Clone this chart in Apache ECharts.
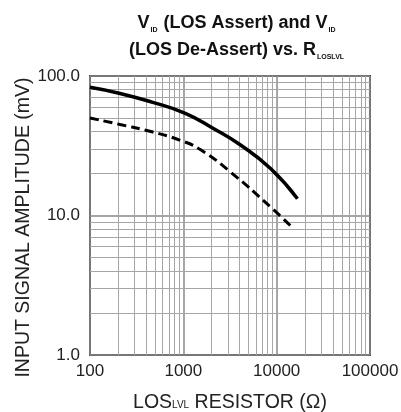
<!DOCTYPE html>
<html>
<head>
<meta charset="utf-8">
<script src="https://cdn.jsdelivr.net/npm/echarts@6/dist/echarts.min.js"></script>
<style>
  html, body { margin: 0; padding: 0; background: #fff; }
  #chart { width: 401px; height: 412px; }
</style>
</head>
<body>
<div id="chart"></div>
<script>
// LOS assert (solid) and de-assert (dashed) vs resistor
var assertR = [100, 210, 460, 1050, 2100, 4100, 8600, 16700];
var assertV = [83, 75, 65, 54, 42, 32, 21.7, 13.2];
var deassertR = [100, 210, 460, 925, 1520, 3200, 8600, 14700];
var deassertV = [50, 44.9, 39.8, 34.6, 29.7, 20.5, 11.5, 8.2];

var xTicks = [100, 1000, 10000, 100000];
var yTicks = [1, 10, 100];

// minor log grid positions (2..9 per decade)
var xMinor = [];
var yMinor = [];
for (var d = 100; d < 100000; d *= 10) {
    for (var k = 2; k <= 9; k++) xMinor.push(d * k);
}
for (var e = 1; e < 100; e *= 10) {
    for (var m = 2; m <= 9; m++) yMinor.push(e * m);
}

function pairs(xs, ys) {
    var out = [];
    for (var i = 0; i < xs.length; i++) out.push([xs[i], ys[i]]);
    return out;
}

var gridLines = [];
xMinor.forEach(function (v) { gridLines.push({xAxis: v}); });
yMinor.forEach(function (v) { gridLines.push({yAxis: v}); });

var font = 'Liberation Sans';

var chart = echarts.init(document.getElementById('chart'));
var option = {
    animation: false,
    backgroundColor: '#fff',
    title: {
        text: 'V{s|ID} (LOS Assert) and V{s|ID}\n(LOS De-Assert) vs. R{s|LOSLVL}',
        left: 232,
        top: 5,
        textAlign: 'center',
        textStyle: {
            fontFamily: font,
            fontSize: 18,
            fontWeight: 'bold',
            color: '#111',
            lineHeight: 27,
            rich: {
                s: {
                    fontFamily: font,
                    fontSize: 7,
                    lineHeight: 7,
                    fontWeight: 'bold',
                    color: '#111',
                    verticalAlign: 'bottom',
                    padding: [0, 1, 3, 1]
                }
            }
        }
    },
    grid: {
        left: 90,
        right: 31,
        top: 76,
        bottom: 57,
        outerBoundsMode: 'none',
        show: true,
        borderColor: '#444',
        borderWidth: 2
    },
    xAxis: {
        type: 'log',
        logBase: 10,
        min: 100,
        max: 100000,
        name: 'LOS{s|LVL} RESISTOR (Ω)',
        nameLocation: 'middle',
        nameGap: 37,
        nameTextStyle: {
            fontFamily: font,
            fontSize: 19.5,
            lineHeight: 22,
            color: '#222',
            rich: {
                s: {fontFamily: font, fontSize: 10, lineHeight: 10, color: '#222', verticalAlign: 'bottom', padding: [0, 0, 4, 0]}
            }
        },
        axisLine: {show: false},
        axisTick: {show: false},
        axisLabel: {
            fontFamily: font,
            fontSize: 17,
            color: '#222',
            margin: 8,
            formatter: function (v) { return xTicks.indexOf(Math.round(v)) >= 0 ? String(Math.round(v)) : ''; }
        },
        splitLine: {show: true, lineStyle: {color: '#888', width: 1.5}}
    },
    yAxis: {
        type: 'log',
        logBase: 10,
        min: 1,
        max: 100,
        name: 'INPUT SIGNAL AMPLITUDE (mV)',
        nameLocation: 'middle',
        nameMoveOverlap: false,
        nameGap: 56,
        nameTextStyle: {fontFamily: font, fontSize: 19.5, color: '#222', padding: [0, 24, 0, 0]},
        axisLine: {show: false},
        axisTick: {show: false},
        axisLabel: {
            fontFamily: font,
            fontSize: 17,
            color: '#222',
            margin: 10,
            formatter: function (v) { return yTicks.indexOf(Math.round(v)) >= 0 ? Number(v).toFixed(1) : ''; }
        },
        splitLine: {show: true, lineStyle: {color: '#888', width: 1.5}}
    },
    series: [
        {
            type: 'line',
            data: [],
            silent: true,
            z: 1,
            markLine: {
                silent: true,
                symbol: ['none', 'none'],
                label: {show: false},
                lineStyle: {type: 'solid', color: '#a6a6a6', width: 1},
                data: gridLines
            }
        },
        {
            name: 'Assert',
            type: 'line',
            z: 10,
            data: pairs(assertR, assertV),
            smooth: 0.5,
            showSymbol: false,
            lineStyle: {color: '#000', width: 3.5}
        },
        {
            name: 'De-Assert',
            type: 'line',
            z: 10,
            data: pairs(deassertR, deassertV),
            smooth: 0.5,
            showSymbol: false,
            lineStyle: {color: '#000', width: 3, type: [9, 5]}
        }
    ]
};
chart.setOption(option);
</script>
</body>
</html>
